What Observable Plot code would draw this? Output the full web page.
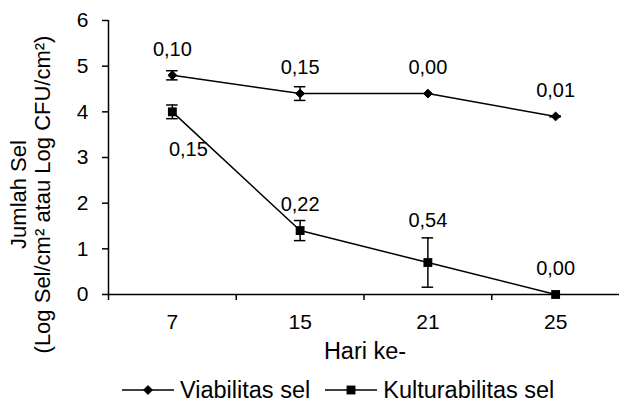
<!DOCTYPE html>
<html>
<head>
<meta charset="utf-8">
<script src="https://cdn.jsdelivr.net/npm/d3@7"></script>
<script src="https://cdn.jsdelivr.net/npm/@observablehq/plot@0.6"></script>
<style>
  html, body { margin: 0; padding: 0; background: #fff; overflow: hidden; }
  body { width: 619px; height: 403px; font-family: "Liberation Sans", Arial, sans-serif; }
  #chart svg { display: block; }
  #legend { height: 36px; display: flex; align-items: center; padding-left: 122px; font-size: 23.5px; line-height: 26px; color: #000; }
  #legend .item { display: flex; align-items: center; }
  #legend .item svg { margin-right: 6px; }
  #legend .item + .item { margin-left: 15px; }
</style>
</head>
<body>
<div id="chart"></div>
<div id="legend"></div>
<script>
// ---- data ----
const categories = ["7", "15", "21", "25"];
const seriesNames = ["Viabilitas sel", "Kulturabilitas sel"];
const viabilitas = [4.8, 4.4, 4.4, 3.9];
const viabilitasSD = [0.10, 0.15, 0.00, 0.01];
const kulturabilitas = [4.0, 1.4, 0.7, 0.0];
const kulturabilitasSD = [0.15, 0.22, 0.54, 0.00];
const yTicks = [0, 1, 2, 3, 4, 5, 6];
const xTitle = "Hari ke-";
const yTitle = "Jumlah Sel\n(Log Sel/cm² atau Log CFU/cm²)";

// ---- build rows ----
const rows = [];
categories.forEach((c, i) => {
  rows.push({series: seriesNames[0], i, v: viabilitas[i], sd: viabilitasSD[i]});
  rows.push({series: seriesNames[1], i, v: kulturabilitas[i], sd: kulturabilitasSD[i]});
});
const viab = rows.filter(d => d.series === seriesNames[0]);
const kult = rows.filter(d => d.series === seriesNames[1]);
const withErr = rows.filter(d => d.sd > 0);
const fmt = v => d3.format(".2f")(v).replace(".", ",");
const cap = 0.045;
const boundaries = d3.range(categories.length).map(i => i - 0.5);

// label placement (layout only)
const isK0 = d => d.series === seriesNames[1] && d.i === 0;
const isK2 = d => d.series === seriesNames[1] && d.i === 2;
const normalLabels = rows.filter(d => !isK0(d) && !isK2(d));

const plot = Plot.plot({
  width: 619,
  height: 372,
  marginLeft: 108,
  marginRight: 0,
  marginTop: 20,
  marginBottom: 78,
  style: {fontFamily: "Liberation Sans, Arial, sans-serif", color: "#000", background: "#fff", overflow: "visible"},
  x: {domain: [-0.5, categories.length - 0.5], label: null},
  y: {domain: [0, 6], label: null},
  marks: [
    Plot.axisY({ticks: yTicks, tickFormat: d => String(d), tickSize: 6, tickPadding: 14, fontSize: 21, strokeWidth: 1.5, label: null}),
    Plot.axisX({ticks: boundaries, tickSize: 6, tickFormat: () => "", strokeWidth: 1.5, label: null}),
    Plot.axisX({ticks: d3.range(categories.length), tickSize: 0, tickPadding: 20, fontSize: 21, tickFormat: i => categories[i], label: null}),
    Plot.ruleY([0], {stroke: "#000", strokeWidth: 1.5}),
    Plot.ruleX([-0.5], {y1: 0, y2: 6, stroke: "#000", strokeWidth: 1.5}),
    // lines
    Plot.line(rows, {x: "i", y: "v", z: "series", stroke: "#000", strokeWidth: 1.5}),
    // error bars
    Plot.ruleX(withErr, {x: "i", y1: d => d.v - d.sd, y2: d => d.v + d.sd, stroke: "#000", strokeWidth: 1.5}),
    Plot.ruleY(withErr, {y: d => d.v - d.sd, x1: d => d.i - cap, x2: d => d.i + cap, stroke: "#000", strokeWidth: 1.5}),
    Plot.ruleY(withErr, {y: d => d.v + d.sd, x1: d => d.i - cap, x2: d => d.i + cap, stroke: "#000", strokeWidth: 1.5}),
    // markers
    Plot.dot(viab, {x: "i", y: "v", symbol: "diamond2", r: 4, fill: "#000", stroke: "#000", strokeWidth: 1}),
    Plot.dot(kult, {x: "i", y: "v", symbol: "square", r: 5, fill: "#000", stroke: "none"}),
    // value labels
    Plot.text(normalLabels, {x: "i", y: "v", text: d => fmt(d.sd), dy: -26, fontSize: 20, fill: "#000"}),
    Plot.text(rows.filter(isK0), {x: "i", y: "v", text: d => fmt(d.sd), dy: 38, dx: 16, fontSize: 20, fill: "#000"}),
    Plot.text(rows.filter(isK2), {x: "i", y: "v", text: d => fmt(d.sd), dy: -42, fontSize: 20, fill: "#000"}),
    // axis titles
    Plot.text([xTitle], {frameAnchor: "bottom", dy: 64, dx: 1, fontSize: 23.5, fill: "#000"}),
    Plot.text([yTitle], {frameAnchor: "left", textAnchor: "middle", rotate: -90, dx: -78.5, dy: 37, lineHeight: 1.09, fontSize: 22, fill: "#000"})
  ]
});
document.getElementById("chart").appendChild(plot);

// ---- legend ----
const legend = d3.select("#legend");
seriesNames.forEach((name, k) => {
  const item = legend.append("div").attr("class", "item");
  const sw = item.append("svg").attr("width", 52).attr("height", 16);
  sw.append("line").attr("x1", 0).attr("x2", 52).attr("y1", 8).attr("y2", 8).attr("stroke", "#000").attr("stroke-width", 1.5);
  if (k === 0) {
    sw.append("path").attr("d", d3.symbol(d3.symbolDiamond2, Math.PI * 16)()).attr("transform", "translate(26,8)").attr("fill", "#000").attr("stroke", "#000");
  } else {
    sw.append("path").attr("d", d3.symbol(d3.symbolSquare, Math.PI * 25)()).attr("transform", "translate(26,8)").attr("fill", "#000");
  }
  item.append("span").text(name);
});
</script>
</body>
</html>
